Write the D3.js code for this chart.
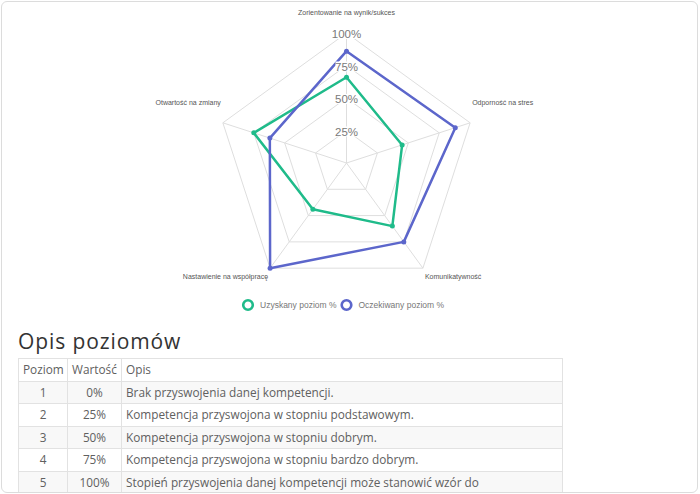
<!DOCTYPE html>
<html>
<head>
<meta charset="utf-8">
<script src="https://cdn.jsdelivr.net/npm/d3@7"></script>
<style>
  body { margin: 0; background: #fff; width: 700px; height: 494px; overflow: hidden; }
  #card {
    position: absolute; left: 1px; top: 1px; width: 697px; height: 492px;
    box-sizing: border-box; border: 1px solid #dcdcdc; border-radius: 6px; overflow: hidden;
  }
  #chart { position: absolute; left: -2px; top: -2px; }
  #title {
    position: absolute; left: 16px; top: 329px; font-family: "Open Sans", sans-serif;
    font-size: 21px; line-height: 21px; color: #333; letter-spacing: 0.9px;
  }
  table {
    position: absolute; left: 16px; top: 356px; width: 545px; border-collapse: collapse; table-layout: fixed;
    font-family: "Open Sans", sans-serif; font-size: 11.8px; color: #606060;
  }
  td, th { border: 1px solid #e2e2e2; padding: 3px 4px; line-height: 15.5px; font-weight: normal; text-align: left; vertical-align: top; white-space: pre-line; }
  tbody tr:nth-child(odd) { background: #f8f8f8; }
  td.c { text-align: center; }
</style>
</head>
<body>
<div id="card">
  <svg id="chart" width="700" height="320"></svg>
  <div id="title">Opis poziomów</div>
  <table id="tbl"></table>
</div>
<script>
// dane
var axes = ["Zorientowanie na wynik/sukces", "Odporność na stres", "Komunikatywność", "Nastawienie na współpracę", "Otwartość na zmiany"];
var uzyskany = [66, 45, 60, 44, 75];
var oczekiwany = [86, 88, 75, 100, 62];
var seriesNames = ["Uzyskany poziom %", "Oczekiwany poziom %"];
var seriesColors = ["#1fbb8a", "#5c66cb"];
var ticks = [25, 50, 75, 100];

var headers = ["Poziom", "Wartość", "Opis"];
var poziomy = ["1", "2", "3", "4", "5"];
var wartosci = ["0%", "25%", "50%", "75%", "100%"];
var opisy = [
  "Brak przyswojenia danej kompetencji.",
  "Kompetencja przyswojona w stopniu podstawowym.",
  "Kompetencja przyswojona w stopniu dobrym.",
  "Kompetencja przyswojona w stopniu bardzo dobrym.",
  "Stopień przyswojenia danej kompetencji może stanowić wzór do\nnaśladowania dla innych."
];

var cx = 346.5, cy = 163;
var r = d3.scaleLinear().domain([0, 100]).range([0, 130]);
var n = axes.length;
function ang(i) { return i * 2 * Math.PI / n; }
function pt(i, v) { return [cx + r(v) * Math.sin(ang(i)), cy - r(v) * Math.cos(ang(i))]; }

var svg = d3.select("#chart");

// siatka
svg.append("g")
  .selectAll("polygon")
  .data(ticks)
  .join("polygon")
    .attr("points", t => d3.range(n).map(i => pt(i, t)).join(" "))
    .attr("fill", "none")
    .attr("stroke", "#dedede")
    .attr("stroke-width", 1);

svg.append("g")
  .selectAll("line")
  .data(d3.range(n))
  .join("line")
    .attr("x1", cx).attr("y1", cy)
    .attr("x2", i => pt(i, 100)[0])
    .attr("y2", i => pt(i, 100)[1])
    .attr("stroke", "#dedede");

// etykiety osi
svg.append("g")
    .attr("font-family", "Liberation Sans, Arial, sans-serif")
    .attr("font-size", 7)
    .attr("fill", "#555")
  .selectAll("text")
  .data(axes)
  .join("text")
    .attr("x", (d, i) => {
      var p = pt(i, 100), s = Math.sin(ang(i));
      return s > 0.1 ? p[0] + 2 : s < -0.1 ? p[0] - 2 : p[0];
    })
    .attr("y", (d, i) => {
      var p = pt(i, 100);
      return Math.cos(ang(i)) > 0 ? p[1] - 20 : p[1] + 8;
    })
    .attr("dy", "0.35em")
    .attr("text-anchor", (d, i) => {
      var s = Math.sin(ang(i));
      return s > 0.1 ? "start" : s < -0.1 ? "end" : "middle";
    })
    .text(d => d);

// serie
var series = [uzyskany, oczekiwany];
var sg = svg.append("g")
  .selectAll("g")
  .data(series)
  .join("g")
    .attr("fill", (d, k) => seriesColors[k])
    .attr("stroke", (d, k) => seriesColors[k]);

sg.append("polygon")
    .attr("points", d => d.map((v, i) => pt(i, v)).join(" "))
    .attr("fill", "none")
    .attr("stroke-width", 2.5)
    .attr("stroke-linejoin", "round");

sg.selectAll("circle")
  .data(d => d)
  .join("circle")
    .attr("cx", (v, i) => pt(i, v)[0])
    .attr("cy", (v, i) => pt(i, v)[1])
    .attr("r", 2.5)
    .attr("stroke", "none");

// etykiety skali
var tg = svg.append("g")
    .attr("font-family", "Liberation Sans, Arial, sans-serif")
    .attr("font-size", 11.5)
    .attr("fill", "#7a7a7a")
  .selectAll("g")
  .data(ticks)
  .join("g")
    .attr("transform", t => `translate(${cx},${cy - r(t) + 1})`);
tg.append("rect")
    .attr("x", t => t === 100 ? -15 : -11)
    .attr("y", -5)
    .attr("width", t => t === 100 ? 30 : 22)
    .attr("height", 10)
    .attr("fill", "#fff");
tg.append("text")
    .attr("text-anchor", "middle")
    .attr("dy", "0.35em")
    .text(t => t + "%");

// legenda
var lg = svg.append("g")
    .attr("font-family", "Liberation Sans, Arial, sans-serif")
    .attr("font-size", 8.5)
    .attr("fill", "#777")
  .selectAll("g")
  .data(seriesNames)
  .join("g")
    .attr("transform", (d, k) => `translate(${[248, 346.5][k]},305)`);
lg.append("circle")
    .attr("r", 4.8)
    .attr("fill", "none")
    .attr("stroke", (d, k) => seriesColors[k])
    .attr("stroke-width", 2.6);
lg.append("text")
    .attr("x", 12)
    .attr("dy", "0.35em")
    .text(d => d);

// tabela
var tbl = d3.select("#tbl");
tbl.append("thead").append("tr")
  .selectAll("th")
  .data(headers)
  .join("th")
    .style("width", (d, i) => ["40px", "45px", null][i])
    .text(d => d);
tbl.append("tbody")
  .selectAll("tr")
  .data(poziomy)
  .join("tr")
  .selectAll("td")
  .data((d, i) => [poziomy[i], wartosci[i], opisy[i]])
  .join("td")
    .attr("class", (d, j) => j < 2 ? "c" : null)
    .text(d => d);
</script>
</body>
</html>
